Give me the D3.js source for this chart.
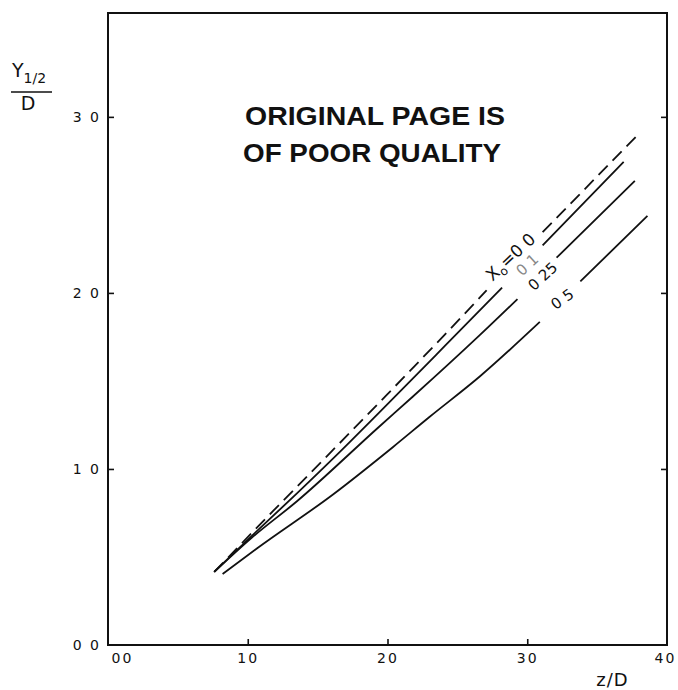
<!DOCTYPE html>
<html>
<head>
<meta charset="utf-8">
<script src="https://cdn.jsdelivr.net/npm/d3@7"></script>
<style>
  body { margin: 0; background: #fff; }
  svg { display: block; }
  .tick text { font-family: "DejaVu Sans", sans-serif; font-size: 14px; fill: #111; letter-spacing: 2px; }
  .tick line { stroke: #111; stroke-width: 1.6; }
  .curve { fill: none; stroke: #111; stroke-width: 1.8; }
  .lbl { font-family: "DejaVu Sans", sans-serif; font-size: 15px; fill: #111; }
  .stamp { font-family: "Liberation Sans", Arial, sans-serif; font-weight: bold; font-size: 25px; fill: #111; }
</style>
</head>
<body>
<svg width="678" height="690"></svg>
<script>
// axis ticks
var xTicks = [0, 1, 2, 3, 4];
var xTickLabels = ["00", "10", "20", "30", "40"];
var yTicks = [0, 1, 2, 3];
var yTickLabels = ["0 0", "1 0", "2 0", "3 0"];

// Y1/2 / D vs z/D, one array per X0 value; null = gap left for the label
var curveX00 = [[0.76, 0.415], [1.18, 0.76], [1.60, 1.10], [2.00, 1.425], [2.40, 1.755], [2.71, 2.015],
  null, [3.11, 2.345], [3.80, 2.905]];
var curveX01 = [[0.76, 0.415], [1.05, 0.635], [1.35, 0.86], [1.65, 1.09], [1.94, 1.32], [2.40, 1.69], [2.82, 2.03],
  null, [3.11, 2.27], [3.69, 2.745]];
var curveX025 = [[0.76, 0.415], [1.03, 0.61], [1.35, 0.815], [1.94, 1.24], [2.18, 1.41], [2.66, 1.76], [2.93, 1.965],
  null, [3.21, 2.20], [3.77, 2.636]];
var curveX05 = [[0.82, 0.403], [1.07, 0.551], [1.61, 0.855], [2.04, 1.125], [2.30, 1.295], [2.66, 1.525], [3.09, 1.835],
  null, [3.38, 2.065], [3.86, 2.438]];

// curve labels, placed in data units
var curveLabels = [
  { text: "X0", z: 2.88, y: 2.205, angle: -43, main: true },
  { text: "0 1", z: 3.0, y: 2.16, angle: -43, faded: true },
  { text: "0 25", z: 3.11, y: 2.095, angle: -43 },
  { text: "0 5", z: 3.25, y: 1.965, angle: -35 }
];

(function () {
  var curves = [
    { data: curveX00, dashed: true },
    { data: curveX01 },
    { data: curveX025 },
    { data: curveX05 }
  ];

  var svg = d3.select("svg");
  var mLeft = 108, mRight = 667, mTop = 13, mBottom = 645;

  var x = d3.scaleLinear().domain([0, 4]).range([mLeft, mRight]);
  var y = d3.scaleLinear().domain([0, 3.59]).range([mBottom, mTop]);

  // frame
  svg.append("rect")
    .attr("x", mLeft).attr("y", mTop)
    .attr("width", mRight - mLeft).attr("height", mBottom - mTop)
    .attr("fill", "none").attr("stroke", "#111").attr("stroke-width", 2);

  var xAxis = svg.append("g")
    .attr("transform", "translate(0," + mBottom + ")")
    .call(d3.axisBottom(x).tickValues(xTicks).tickSize(-6).tickPadding(8)
      .tickFormat((d, i) => xTickLabels[i]));
  xAxis.select(".domain").remove();
  xAxis.selectAll(".tick").filter(d => d == 0 || d == 4).select("line").remove();
  xAxis.selectAll(".tick").filter(d => d == 0).select("text").attr("dx", 14);
  xAxis.selectAll(".tick").filter(d => d == 4).select("text").attr("dx", -2);

  var yAxis = svg.append("g")
    .attr("transform", "translate(" + mLeft + ",0)")
    .call(d3.axisLeft(y).tickValues(yTicks).tickSize(-6).tickPadding(7)
      .tickFormat((d, i) => yTickLabels[i]));
  yAxis.select(".domain").remove();
  yAxis.selectAll(".tick").filter(d => d == 0).select("line").remove();

  var yRight = svg.append("g")
    .attr("transform", "translate(" + mRight + ",0)")
    .call(d3.axisRight(y).tickValues(yTicks.filter(d => d > 0)).tickSize(-6).tickFormat(""));
  yRight.select(".domain").remove();

  // axis titles
  svg.append("text").attr("class", "lbl")
    .attr("x", x(3.61)).attr("y", 686)
    .attr("text-anchor", "middle").style("font-size", "18px").style("letter-spacing", "1px")
    .text("z/D");

  var yt = svg.append("g").attr("transform", "translate(31,0)");
  var yl = yt.append("text").attr("class", "lbl")
    .attr("x", -2).attr("y", 77).attr("text-anchor", "middle").style("font-size", "19px");
  yl.append("tspan").text("Y");
  yl.append("tspan").attr("dy", 6).style("font-size", "14px").text("1/2");
  yt.append("line").attr("x1", -20).attr("x2", 21).attr("y1", 92).attr("y2", 92)
    .attr("stroke", "#111").attr("stroke-width", 1.5);
  yt.append("text").attr("class", "lbl")
    .attr("x", -3).attr("y", 110).attr("text-anchor", "middle").style("font-size", "19px")
    .text("D");

  // curves
  var line = d3.line()
    .defined(d => d !== null)
    .x(d => x(d[0]))
    .y(d => y(d[1]))
    .curve(d3.curveMonotoneX);

  svg.selectAll(".curve")
    .data(curves)
    .enter()
    .append("path")
    .attr("class", "curve")
    .attr("stroke-dasharray", d => d.dashed ? "13 7" : null)
    .attr("d", d => line(d.data));

  // curve labels
  var lg = svg.selectAll(".clbl")
    .data(curveLabels)
    .enter()
    .append("text")
    .attr("class", "lbl")
    .attr("text-anchor", "middle")
    .attr("dy", "0.35em")
    .attr("transform", d => "translate(" + x(d.z) + "," + y(d.y) + ") rotate(" + d.angle + ")")
    .style("fill", d => d.faded ? "#888" : "#111");

  lg.filter(d => !d.main).text(d => d.text);
  var main = lg.filter(d => d.main).style("font-size", "17px");
  main.append("tspan").text("X");
  main.append("tspan").attr("dy", 4).style("font-size", "12px").text("o");
  main.append("tspan").attr("dy", -4).text("=0 0");

  // stamp
  svg.append("text").attr("class", "stamp")
    .attr("x", 245).attr("y", 125)
    .attr("textLength", 260).attr("lengthAdjust", "spacingAndGlyphs")
    .text("ORIGINAL PAGE IS");
  svg.append("text").attr("class", "stamp")
    .attr("x", 243).attr("y", 162)
    .attr("textLength", 258).attr("lengthAdjust", "spacingAndGlyphs")
    .text("OF POOR QUALITY");
})();
</script>
</body>
</html>
